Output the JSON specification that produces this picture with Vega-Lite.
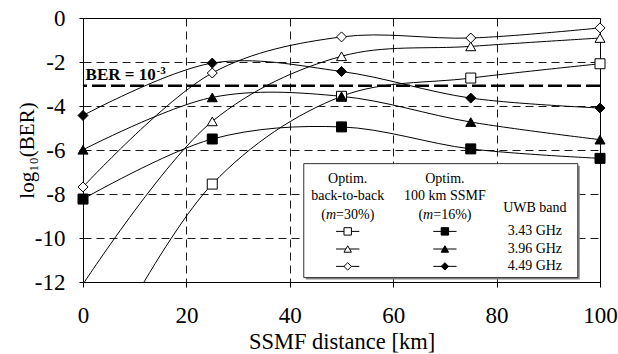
{
  "$schema": "https://vega.github.io/schema/vega-lite/v6.json",
  "width": 517,
  "height": 264,
  "autosize": {"type": "none"},
  "padding": {"left": 83, "top": 18, "right": 18, "bottom": 72},
  "config": {
    "font": "Liberation Serif",
    "view": {"stroke": "black", "strokeWidth": 1},
    "axis": {
      "domainColor": "black", "tickColor": "black", "labelColor": "black", "titleColor": "black",
      "labelFont": "Liberation Serif", "titleFont": "Liberation Serif",
      "labelFontSize": 23, "titleFontSize": 22, "titleFontWeight": "normal",
      "grid": true, "gridColor": "black", "gridDash": [8, 5], "gridWidth": 0.9, "gridOpacity": 1
    }
  },
  "datasets": {
    "curves": [
      {"x": 0, "y": -17, "s": "sq_o"}, {"x": 25, "y": -7.55, "s": "sq_o"}, {"x": 50, "y": -3.56, "s": "sq_o"}, {"x": 75, "y": -2.73, "s": "sq_o"}, {"x": 100, "y": -2.08, "s": "sq_o"},
      {"x": 0, "y": -12.1, "s": "tri_o"}, {"x": 25, "y": -4.7, "s": "tri_o"}, {"x": 50, "y": -1.74, "s": "tri_o"}, {"x": 75, "y": -1.29, "s": "tri_o"}, {"x": 100, "y": -0.91, "s": "tri_o"},
      {"x": 0, "y": -7.68, "s": "dia_o"}, {"x": 25, "y": -2.5, "s": "dia_o"}, {"x": 50, "y": -0.86, "s": "dia_o"}, {"x": 75, "y": -0.91, "s": "dia_o"}, {"x": 100, "y": -0.45, "s": "dia_o"},
      {"x": 0, "y": -8.23, "s": "sq_f"}, {"x": 25, "y": -5.5, "s": "sq_f"}, {"x": 50, "y": -4.95, "s": "sq_f"}, {"x": 75, "y": -5.95, "s": "sq_f"}, {"x": 100, "y": -6.38, "s": "sq_f"},
      {"x": 0, "y": -5.99, "s": "tri_f"}, {"x": 25, "y": -3.61, "s": "tri_f"}, {"x": 50, "y": -3.56, "s": "tri_f"}, {"x": 75, "y": -4.73, "s": "tri_f"}, {"x": 100, "y": -5.53, "s": "tri_f"},
      {"x": 0, "y": -4.43, "s": "dia_f"}, {"x": 25, "y": -2.05, "s": "dia_f"}, {"x": 50, "y": -2.43, "s": "dia_f"}, {"x": 75, "y": -3.64, "s": "dia_f"}, {"x": 100, "y": -4.09, "s": "dia_f"}
    ],
    "threshold": [{"y": -3.08, "x": 0.5, "yl": -2.8}],
    "box": [{"x1": 42.7, "x2": 95.7, "y1": -6.62, "y2": -11.8}],
    "legendText": [
      {"x": 51.2, "y": -7.33, "t": "Optim."},
      {"x": 51.2, "y": -8.11, "t": "back-to-back"},
      {"x": 70.0, "y": -7.33, "t": "Optim."},
      {"x": 70.0, "y": -8.11, "t": "100 km SSMF"},
      {"x": 87.4, "y": -8.64, "t": "UWB band"},
      {"x": 87.4, "y": -9.70, "t": "3.43 GHz"},
      {"x": 87.4, "y": -10.5, "t": "3.96 GHz"},
      {"x": 87.4, "y": -11.29, "t": "4.49 GHz"}
    ],
    "legendPct": [
      {"x": 51.2, "y": -8.94, "pct": "=30%)"},
      {"x": 70.0, "y": -8.94, "pct": "=16%)"}
    ],
    "legendSym": [
      {"x": 51.2, "x1": 48.95, "x2": 53.45, "y": -9.70, "s": "sq_o"},
      {"x": 51.2, "x1": 48.95, "x2": 53.45, "y": -10.5, "s": "tri_o"},
      {"x": 51.2, "x1": 48.95, "x2": 53.45, "y": -11.29, "s": "dia_o"},
      {"x": 70.0, "x1": 67.75, "x2": 72.25, "y": -9.70, "s": "sq_f"},
      {"x": 70.0, "x1": 67.75, "x2": 72.25, "y": -10.5, "s": "tri_f"},
      {"x": 70.0, "x1": 67.75, "x2": 72.25, "y": -11.29, "s": "dia_f"}
    ]
  },
  "layer": [
    {
      "data": {"name": "curves"},
      "mark": {"type": "line", "interpolate": "catmull-rom", "color": "black", "strokeWidth": 1, "clip": true},
      "encoding": {
        "x": {"field": "x", "type": "quantitative", "scale": {"domain": [0, 100], "nice": false},
          "axis": {"values": [0, 20, 40, 60, 80, 100], "title": "SSMF distance [km]", "labelFont": "Liberation Serif", "titleFont": "Liberation Serif", "labelFontSize": 23, "titleFontSize": 22.5, "tickSize": 5, "labelPadding": 17, "titlePadding": 3, "labelFlush": false}},
        "y": {"field": "y", "type": "quantitative", "scale": {"domain": [-12, 0], "nice": false, "zero": false},
          "axis": {"values": [-12, -10, -8, -6, -4, -2, 0], "title": "log₁₀(BER)", "labelFont": "Liberation Serif", "titleFont": "Liberation Serif", "labelFontSize": 23, "titleFontSize": 21, "tickSize": 4, "labelPadding": 14, "titlePadding": -3, "labelExpr": "replace(datum.label, '\u2212', '-')"}},
        "detail": {"field": "s"}
      }
    },
    {
      "data": {"name": "threshold"},
      "mark": {"type": "rule", "color": "black", "strokeWidth": 2.5, "strokeDash": [14, 5]},
      "encoding": {"y": {"field": "y", "type": "quantitative"}}
    },
    {
      "data": {"name": "threshold"},
      "mark": {"type": "text", "align": "left", "baseline": "alphabetic", "fontSize": 17, "fontWeight": "bold", "text": "BER = 10", "color": "black"},
      "encoding": {"x": {"field": "x", "type": "quantitative"}, "y": {"field": "yl", "type": "quantitative"}}
    },
    {
      "data": {"name": "threshold"},
      "mark": {"type": "text", "align": "left", "baseline": "alphabetic", "fontSize": 11, "fontWeight": "bold", "text": "-3", "dx": 71, "dy": -6, "color": "black"},
      "encoding": {"x": {"field": "x", "type": "quantitative"}, "y": {"field": "yl", "type": "quantitative"}}
    },
    {
      "data": {"name": "curves"},
      "transform": [{"filter": "datum.y >= -12"}],
      "mark": {"type": "point", "filled": true, "stroke": "black", "strokeWidth": 1, "size": 100, "opacity": 1},
      "encoding": {
        "x": {"field": "x", "type": "quantitative"},
        "y": {"field": "y", "type": "quantitative"},
        "shape": {"field": "s", "scale": {"domain": ["sq_o", "tri_o", "dia_o", "sq_f", "tri_f", "dia_f"], "range": ["square", "triangle-up", "diamond", "square", "triangle-up", "diamond"]}, "legend": null},
        "fill": {"field": "s", "scale": {"domain": ["sq_o", "tri_o", "dia_o", "sq_f", "tri_f", "dia_f"], "range": ["white", "white", "white", "black", "black", "black"]}, "legend": null}
      }
    },
    {
      "data": {"name": "box"},
      "mark": {"type": "rect", "fill": "#888888", "xOffset": 2, "yOffset": 2, "x2Offset": 2, "y2Offset": 2},
      "encoding": {"x": {"field": "x1", "type": "quantitative"}, "x2": {"field": "x2"}, "y": {"field": "y1", "type": "quantitative"}, "y2": {"field": "y2"}}
    },
    {
      "data": {"name": "box"},
      "mark": {"type": "rect", "fill": "white", "stroke": "#333333", "strokeWidth": 1},
      "encoding": {"x": {"field": "x1", "type": "quantitative"}, "x2": {"field": "x2"}, "y": {"field": "y1", "type": "quantitative"}, "y2": {"field": "y2"}}
    },
    {
      "data": {"name": "legendText"},
      "mark": {"type": "text", "align": "center", "baseline": "middle", "fontSize": 14, "color": "black"},
      "encoding": {"x": {"field": "x", "type": "quantitative"}, "y": {"field": "y", "type": "quantitative"}, "text": {"field": "t"}}
    },
    {
      "data": {"name": "legendPct"},
      "mark": {"type": "text", "align": "right", "baseline": "middle", "fontSize": 14, "text": "(", "dx": -21.8, "color": "black"},
      "encoding": {"x": {"field": "x", "type": "quantitative"}, "y": {"field": "y", "type": "quantitative"}}
    },
    {
      "data": {"name": "legendPct"},
      "mark": {"type": "text", "align": "left", "baseline": "middle", "fontSize": 14, "fontStyle": "italic", "text": "m", "dx": -21.8, "color": "black"},
      "encoding": {"x": {"field": "x", "type": "quantitative"}, "y": {"field": "y", "type": "quantitative"}}
    },
    {
      "data": {"name": "legendPct"},
      "mark": {"type": "text", "align": "left", "baseline": "middle", "fontSize": 14, "dx": -11.6, "color": "black"},
      "encoding": {"x": {"field": "x", "type": "quantitative"}, "y": {"field": "y", "type": "quantitative"}, "text": {"field": "pct"}}
    },
    {
      "data": {"name": "legendSym"},
      "mark": {"type": "rule", "color": "black", "strokeWidth": 1},
      "encoding": {"x": {"field": "x1", "type": "quantitative"}, "x2": {"field": "x2"}, "y": {"field": "y", "type": "quantitative"}}
    },
    {
      "data": {"name": "legendSym"},
      "mark": {"type": "point", "filled": true, "stroke": "black", "strokeWidth": 1, "size": 55, "opacity": 1},
      "encoding": {
        "x": {"field": "x", "type": "quantitative"},
        "y": {"field": "y", "type": "quantitative"},
        "shape": {"field": "s", "scale": {"domain": ["sq_o", "tri_o", "dia_o", "sq_f", "tri_f", "dia_f"], "range": ["square", "triangle-up", "diamond", "square", "triangle-up", "diamond"]}, "legend": null},
        "fill": {"field": "s", "scale": {"domain": ["sq_o", "tri_o", "dia_o", "sq_f", "tri_f", "dia_f"], "range": ["white", "white", "white", "black", "black", "black"]}, "legend": null}
      }
    }
  ]
}
